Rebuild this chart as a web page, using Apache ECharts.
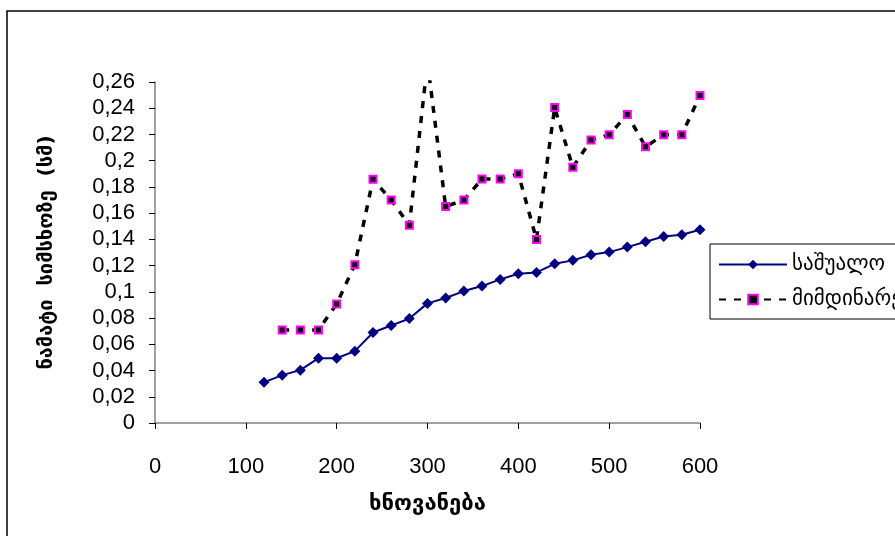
<!DOCTYPE html>
<html>
<head>
<meta charset="utf-8">
<script src="https://cdn.jsdelivr.net/npm/echarts@6/dist/echarts.min.js"></script>
<style>
  html, body { margin: 0; padding: 0; background: #fff; }
  #chart { width: 895px; height: 536px; }
</style>
</head>
<body>
<div id="chart"></div>
<script>
// ასაკი (x) და ნამატი (y)
var xAvg = [120, 140, 160, 180, 200, 220, 240, 260, 280, 300, 320, 340, 360, 380, 400, 420, 440, 460, 480, 500, 520, 540, 560, 580, 600];
var avgValues = [0.031, 0.0365, 0.0403, 0.0494, 0.0494, 0.0548, 0.069, 0.0743, 0.0796, 0.0912, 0.0953, 0.1006, 0.1044, 0.1095, 0.1138, 0.1148, 0.1214, 0.124, 0.1283, 0.1303, 0.1341, 0.1382, 0.1422, 0.1435, 0.1473];

var xCur = [140, 160, 180, 200, 220, 240, 260, 280, 300, 320, 340, 360, 380, 400, 420, 440, 460, 480, 500, 520, 540, 560, 580, 600, 620];
var curValues = [0.071, 0.071, 0.071, 0.0907, 0.1207, 0.1858, 0.170, 0.1508, 0.275, 0.165, 0.170, 0.186, 0.186, 0.190, 0.140, 0.2405, 0.195, 0.2157, 0.2198, 0.2352, 0.2106, 0.2198, 0.2198, 0.2497, 0.215];

var seriesNames = ['საშუალო', 'მიმდინარე'];
var xTitle = 'ხნოვანება';
var yTitle = 'ნამატი  სიმსხოზე  (სმ)';

function pairs(xs, ys) {
    var res = [];
    for (var i = 0; i < xs.length; i++) {
        res.push([xs[i], ys[i]]);
    }
    return res;
}

var myChart = echarts.init(document.getElementById('chart'));
var textFont = '"Liberation Sans", Arial, "DejaVu Sans", sans-serif';
var geoFont = '"DejaVu Sans", sans-serif';

var option = {
    animation: false,
    textStyle: { fontFamily: textFont },
    graphic: [{
        type: 'rect',
        shape: { x: 7, y: 11, width: 900, height: 540 },
        style: { fill: 'none', stroke: '#000', lineWidth: 1.5 },
        silent: true
    }],
    grid: { left: 155, right: 195, top: 82, bottom: 113 },
    legend: {
        orient: 'vertical',
        left: 710,
        top: 244,
        padding: [10, 20, 9, 8],
        itemWidth: 68,
        itemHeight: 12,
        itemGap: 14,
        borderColor: '#000',
        borderWidth: 1,
        textStyle: { fontSize: 21, color: '#000', fontFamily: geoFont },
        data: seriesNames
    },
    xAxis: {
        type: 'value',
        min: 0,
        max: 600,
        interval: 100,
        name: xTitle,
        nameLocation: 'middle',
        nameGap: 70,
        nameTextStyle: { fontSize: 22, fontWeight: 'bold', color: '#000', fontFamily: geoFont },
        axisLine: { lineStyle: { color: '#808080', width: 1.5 } },
        axisTick: { show: true, inside: false, length: 6, lineStyle: { color: '#000' } },
        axisLabel: { fontSize: 22, color: '#000', margin: 33 },
        splitLine: { show: false }
    },
    yAxis: {
        type: 'value',
        min: 0,
        max: 0.26,
        interval: 0.02,
        name: yTitle,
        nameLocation: 'middle',
        nameGap: 98,
        nameRotate: 90,
        nameTextStyle: { fontSize: 20, fontWeight: 'bold', color: '#000', fontFamily: geoFont },
        axisLine: { show: true, lineStyle: { color: '#808080', width: 1.5 } },
        axisTick: { show: true, inside: false, length: 6, lineStyle: { color: '#000' } },
        axisLabel: {
            fontSize: 22,
            color: '#000',
            margin: 20,
            formatter: function (v) {
                return String(+v.toFixed(2)).replace('.', ',');
            }
        },
        splitLine: { show: false }
    },
    series: [{
        name: seriesNames[0],
        type: 'line',
        clip: true,
        symbol: 'diamond',
        symbolSize: 11,
        itemStyle: { color: '#000080' },
        lineStyle: { color: '#000080', width: 2 },
        data: pairs(xAvg, avgValues)
    }, {
        name: seriesNames[1],
        type: 'line',
        clip: true,
        symbol: 'rect',
        symbolSize: 7,
        itemStyle: { color: '#000', borderColor: '#ff00ff', borderWidth: 2 },
        lineStyle: { color: '#000', width: 3.5, type: [7, 8] },
        data: pairs(xCur, curValues)
    }]
};

myChart.setOption(option);
</script>
</body>
</html>
